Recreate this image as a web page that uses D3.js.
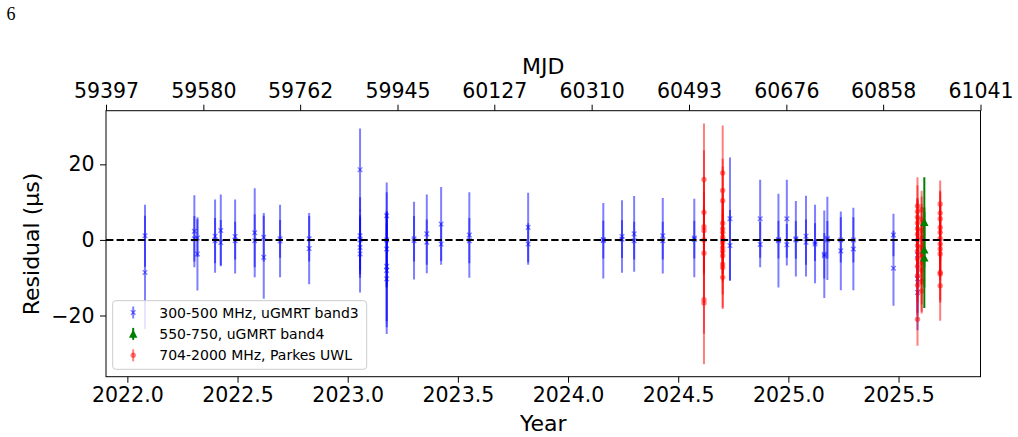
<!DOCTYPE html>
<html>
<head>
<meta charset="utf-8">
<script src="https://cdn.jsdelivr.net/npm/d3@7"></script>
<style>
  body { margin: 0; background: #fff; }
  svg { display: block; font-family: "DejaVu Sans", sans-serif; }
</style>
</head>
<body>
<svg id="chart"></svg>
<script>

// ---- data ----
var yearLimits = [2021.903, 2025.872];
var resLimits = [-36.2, 34.2];
var yearTicks = [2022.0, 2022.5, 2023.0, 2023.5, 2024.0, 2024.5, 2025.0, 2025.5];
var resTicks = [-20, 0, 20];
var mjdTicks = [59397, 59580, 59762, 59945, 60127, 60310, 60493, 60676, 60858, 61041];

var legendLabels = ["300-500 MHz, uGMRT band3", "550-750, uGMRT band4", "704-2000 MHz, Parkes UWL"];

// uGMRT band 3
var band3Year = [
  2022.080, 2022.080, 2022.304, 2022.304, 2022.318, 2022.318, 2022.398, 2022.398,
  2022.424, 2022.424, 2022.489, 2022.489, 2022.578, 2022.578, 2022.619, 2022.619,
  2022.693, 2022.693, 2022.825, 2022.825,
  2023.056, 2023.056, 2023.056, 2023.056, 2023.056,
  2023.177, 2023.177, 2023.177, 2023.177, 2023.177, 2023.177,
  2023.301, 2023.301, 2023.359, 2023.359, 2023.424, 2023.424, 2023.552, 2023.552,
  2023.819, 2023.819, 2024.160, 2024.160, 2024.245, 2024.245, 2024.300, 2024.300,
  2024.430, 2024.430, 2024.573, 2024.573, 2024.735, 2024.735, 2024.872, 2024.872,
  2024.955, 2024.955, 2024.993, 2024.993, 2025.034, 2025.034, 2025.080, 2025.080,
  2025.121, 2025.121, 2025.163, 2025.163, 2025.177, 2025.177, 2025.238, 2025.238,
  2025.295, 2025.295, 2025.477, 2025.477, 2025.586, 2025.586, 2025.586
];
var band3Res = [
  1.1, -8.6, 2.3, 0.3, -3.7, 0.5, 1.0, -0.2,
  2.5, -0.7, 0.9, -0.2, 1.9, -0.2, -4.6, 0.7,
  -0.3, 0.3, -2.3, 0.3,
  18.6, 1.1, 0.0, -2.0, -3.7,
  6.4, 0.0, -2.4, -7.0, -8.1, -10.3,
  -0.2, 0.3, 1.6, -0.6, 4.2, -1.1, 1.3, -0.2,
  3.3, -1.1, -0.2, 0.1, 0.9, 0.2, 1.6, -0.2,
  1.1, -0.2, 0.5, 0.1, 5.6, -1.5, 5.6, -1.2,
  -0.2, 0.1, 5.6, -1.3, 0.3, 0.0, 1.0, -0.6,
  -1.1, -0.6, -3.8, -4.2, 0.4, 0.0, -2.9, 0.0,
  -2.4, 0.0, 1.3, -7.5, -4.0, -10.3, -13.9
];
var band3Err = [
  8.2, 15.0, 9.5, 6.0, 9.7, 5.0, 9.7, 6.0,
  9.5, 6.0, 9.8, 5.0, 11.8, 7.0, 11.0, 6.4,
  9.6, 5.0, 9.4, 6.0,
  10.9, 10.2, 8.0, 8.0, 10.2,
  8.8, 12.6, 10.0, 14.5, 15.0, 14.6,
  10.3, 6.0, 10.4, 6.0, 9.8, 5.5, 11.3, 6.0,
  9.2, 5.5, 10.0, 5.0, 9.6, 5.0, 10.0, 5.0,
  10.0, 5.0, 10.4, 5.0, 16.2, 9.4, 10.3, 6.0,
  12.4, 5.0, 10.3, 5.5, 10.0, 5.0, 10.7, 6.0,
  10.4, 5.0, 11.6, 6.0, 11.0, 5.0, 10.4, 6.0,
  10.9, 6.0, 5.6, 9.9, 8.0, 9.0, 10.0
];

// uGMRT band 4
var band4Year = [2025.617, 2025.617, 2025.617];
var band4Res = [4.7, -2.6, -4.7];
var band4Err = [11.9, 10.0, 13.3];

// Parkes UWL
var uwlYear = [
  2024.617, 2024.617, 2024.617, 2024.617, 2024.617, 2024.617, 2024.617, 2024.617,
  2024.702, 2024.702, 2024.702, 2024.702, 2024.702, 2024.702, 2024.702, 2024.702,
  2024.702, 2024.702, 2024.702, 2024.702, 2024.702, 2024.702, 2024.702,
  2025.586, 2025.586, 2025.586, 2025.586, 2025.586, 2025.586, 2025.586,
  2025.586, 2025.586, 2025.586, 2025.586, 2025.586, 2025.586, 2025.586,
  2025.605, 2025.605, 2025.605, 2025.605, 2025.605,
  2025.605, 2025.605, 2025.605, 2025.605, 2025.605,
  2025.689, 2025.689, 2025.689, 2025.689, 2025.689, 2025.689,
  2025.689, 2025.689, 2025.689, 2025.689, 2025.689, 2025.689
];
var uwlRes = [
  16.0, 7.3, 3.5, 2.5, 0.0, -3.5, -15.8, -16.7,
  17.7, 13.1, 10.4, 4.4, 3.0, 2.0, 0.8, 0.0,
  -0.8, -2.0, -3.0, -4.2, -6.4, -7.3, -9.9,
  9.0, 7.5, 6.0, 4.5, 3.0, 1.5, 0.0,
  -1.5, -3.0, -5.0, -7.0, -9.5, -12.0, -21.0,
  8.0, 5.5, 2.5, 0.5, -2.0,
  -4.0, -6.0, -8.0, -11.0, -13.5,
  9.5, 7.1, 5.6, 3.3, 2.0, 0.3,
  -1.1, -2.4, -3.7, -8.6, -9.0, -12.1
];
var uwlErr = [
  14.8, 16.4, 12.0, 10.0, 9.0, 12.0, 9.0, 16.2,
  12.6, 8.4, 9.0, 8.0, 7.0, 6.0, 6.0, 5.0,
  6.0, 7.0, 6.0, 7.0, 8.0, 10.6, 8.4,
  7.6, 7.0, 5.0, 6.0, 8.0, 5.0, 6.0,
  5.0, 7.0, 6.0, 8.0, 7.0, 8.0, 7.0,
  5.0, 6.0, 7.0, 5.0, 6.0,
  7.0, 6.0, 9.0, 8.0, 6.0,
  6.2, 6.0, 7.0, 6.0, 7.0, 6.0,
  7.0, 6.0, 7.0, 8.0, 7.0, 9.3
];

// ---- chart ----
var width = 1018,
    height = 437;

var margin = {top: 110.7, right: 37.5, bottom: 60.3, left: 106};

var svg = d3.select("#chart")
    .attr("width", width)
    .attr("height", height);

svg.append("rect")
    .attr("width", width)
    .attr("height", height)
    .attr("fill", "#fff");

var x = d3.scaleLinear()
    .domain(yearLimits)
    .range([margin.left, width - margin.right]);

var xTop = d3.scaleLinear()
    .domain([mjdTicks[0], mjdTicks[mjdTicks.length - 1]])
    .range([margin.left, width - margin.right]);

var y = d3.scaleLinear()
    .domain(resLimits)
    .range([height - margin.bottom, margin.top]);

function toPoints(t, r, e) {
  return t.map(function(d, i) { return {t: d, r: r[i], e: e[i]}; });
}

var band3 = toPoints(band3Year, band3Res, band3Err),
    band4 = toPoints(band4Year, band4Res, band4Err),
    uwl = toPoints(uwlYear, uwlRes, uwlErr);

svg.append("clipPath")
    .attr("id", "plotclip")
  .append("rect")
    .attr("x", margin.left)
    .attr("y", margin.top)
    .attr("width", width - margin.left - margin.right)
    .attr("height", height - margin.top - margin.bottom);

var plot = svg.append("g").attr("clip-path", "url(#plotclip)");

function marker(g, kind, color) {
  if (kind === "x") {
    g.append("path")
        .attr("d", "M-2.3,-2.3L2.3,2.3M-2.3,2.3L2.3,-2.3")
        .attr("stroke", color)
        .attr("stroke-width", 1.3)
        .attr("fill", "none");
  } else if (kind === "o") {
    g.append("circle")
        .attr("r", 2.7)
        .attr("fill", color);
  } else {
    g.append("path")
        .attr("d", "M0,-4.4L-4.2,3.8L4.2,3.8Z")
        .attr("fill", color);
  }
}

function drawSeries(pts, color, alpha, kind) {
  var g = plot.append("g");

  g.selectAll("line")
      .data(pts)
      .enter().append("line")
        .attr("x1", function(d) { return x(d.t); })
        .attr("x2", function(d) { return x(d.t); })
        .attr("y1", function(d) { return y(d.r - d.e); })
        .attr("y2", function(d) { return y(d.r + d.e); })
        .attr("stroke", color)
        .attr("stroke-opacity", alpha)
        .attr("stroke-width", 2);

  g.selectAll("g.mk")
      .data(pts)
      .enter().append("g")
        .attr("class", "mk")
        .attr("opacity", alpha)
        .attr("transform", function(d) { return "translate(" + x(d.t) + "," + y(d.r) + ")"; })
        .each(function() { marker(d3.select(this), kind, color); });
}

drawSeries(band3, "#0000ff", 0.5, "x");
drawSeries(uwl, "#ff0000", 0.5, "o");
drawSeries(band4, "#008000", 1, "^");

// zero line
plot.append("line")
    .attr("x1", margin.left)
    .attr("x2", width - margin.right)
    .attr("y1", y(0))
    .attr("y2", y(0))
    .attr("stroke", "#000")
    .attr("stroke-width", 2)
    .attr("stroke-dasharray", "7.4,3.2");

// frame
svg.append("rect")
    .attr("x", margin.left)
    .attr("y", margin.top)
    .attr("width", width - margin.left - margin.right)
    .attr("height", height - margin.top - margin.bottom)
    .attr("fill", "none")
    .attr("stroke", "#000")
    .attr("stroke-width", 1);

// axes
var xAxis = svg.append("g")
    .attr("transform", "translate(0," + (height - margin.bottom) + ")")
    .call(d3.axisBottom(x).tickValues(yearTicks).tickFormat(d3.format(".1f"))
      .tickSize(6).tickPadding(5).tickSizeOuter(0));

var topAxis = svg.append("g")
    .attr("transform", "translate(0," + margin.top + ")")
    .call(d3.axisTop(xTop).tickValues(mjdTicks).tickFormat(d3.format("d"))
      .tickSize(6).tickPadding(7).tickSizeOuter(0));

var yAxis = svg.append("g")
    .attr("transform", "translate(" + margin.left + ",0)")
    .call(d3.axisLeft(y).tickValues(resTicks)
      .tickSize(6).tickPadding(5.5).tickSizeOuter(0));

[xAxis, topAxis, yAxis].forEach(function(a) {
  a.select(".domain").remove();
  a.selectAll("text")
      .attr("font-family", "DejaVu Sans, sans-serif")
      .attr("font-size", 20.5)
      .attr("fill", "#000");
  a.selectAll(".tick line").attr("stroke", "#000").attr("stroke-width", 1);
});

// axis labels
svg.append("text")
    .attr("x", (margin.left + width - margin.right) / 2)
    .attr("y", 431)
    .attr("text-anchor", "middle")
    .attr("font-size", 22)
    .text("Year");

svg.append("text")
    .attr("x", (margin.left + width - margin.right) / 2)
    .attr("y", 73.5)
    .attr("text-anchor", "middle")
    .attr("font-size", 22)
    .text("MJD");

svg.append("text")
    .attr("transform", "translate(39," + 244 + ") rotate(-90)")
    .attr("text-anchor", "middle")
    .attr("font-size", 22)
    .text("Residual (μs)");

// page number
svg.append("text")
    .attr("x", 6.5)
    .attr("y", 20)
    .attr("font-family", "Liberation Serif, serif")
    .attr("font-size", 18)
    .text("6");

// legend
var legend = svg.append("g")
    .attr("transform", "translate(112.7,300.7)");

legend.append("rect")
    .attr("width", 254)
    .attr("height", 68.6)
    .attr("rx", 3)
    .attr("fill", "#fff")
    .attr("fill-opacity", 0.8)
    .attr("stroke", "#cccccc")
    .attr("stroke-width", 1);

var legendKinds = [["#0000ff", 0.5, "x"], ["#008000", 1, "^"], ["#ff0000", 0.5, "o"]];

var entry = legend.selectAll("g.entry")
    .data(legendLabels)
    .enter().append("g")
      .attr("class", "entry")
      .attr("transform", function(d, i) { return "translate(0," + (11.8 + i * 21.4) + ")"; });

entry.each(function(d, i) {
  var k = legendKinds[i];
  var g = d3.select(this);
  g.append("line")
      .attr("x1", 20.5).attr("x2", 20.5)
      .attr("y1", -6).attr("y2", 6)
      .attr("stroke", k[0])
      .attr("stroke-opacity", k[1])
      .attr("stroke-width", 2);
  var m = g.append("g")
      .attr("transform", "translate(20.5,0)")
      .attr("opacity", k[1]);
  marker(m, k[2], k[0]);
  g.append("text")
      .attr("x", 46.6)
      .attr("y", 5.1)
      .attr("font-size", 14)
      .attr("fill", "#000")
      .text(d);
});

</script>
</body>
</html>
